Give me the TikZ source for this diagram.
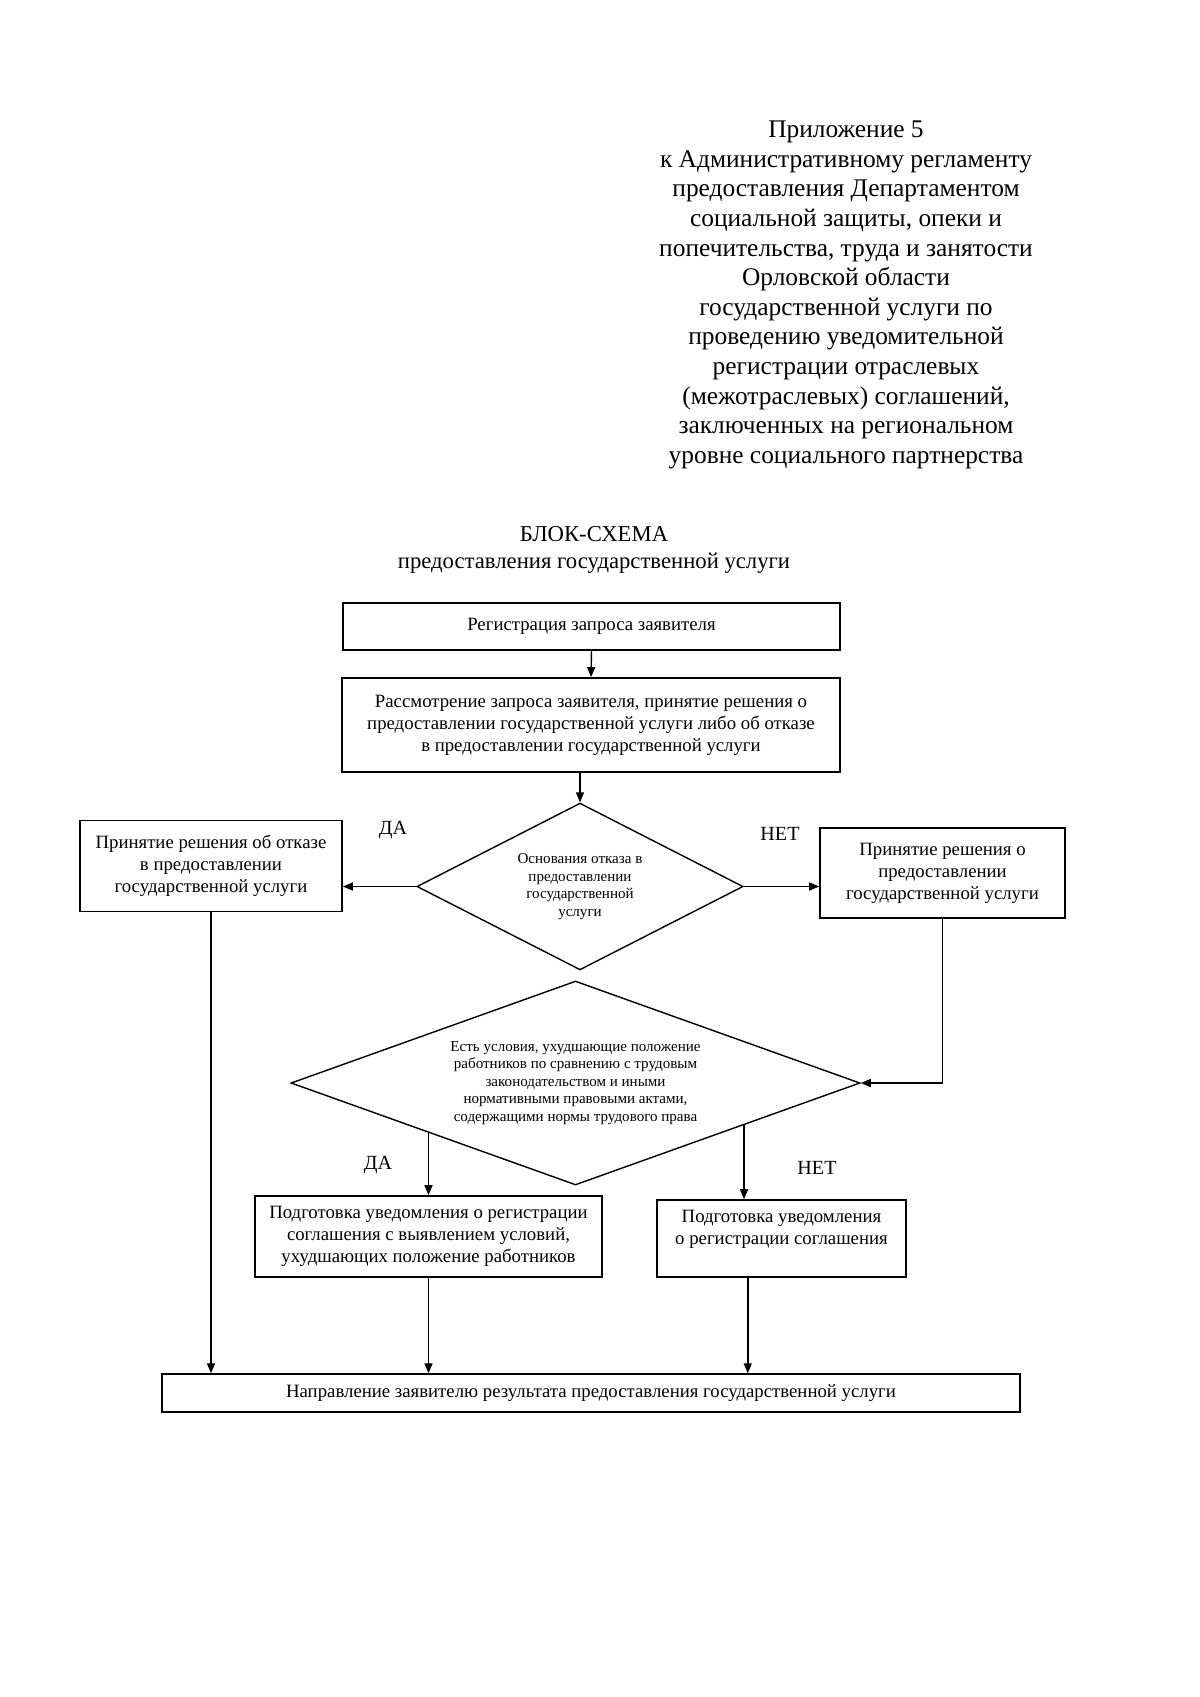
\documentclass[tikz,border=0pt]{standalone}
\usepackage{fontspec}
\setmainfont{Liberation Serif}
\usetikzlibrary{shapes.geometric,arrows.meta,positioning,calc}

\begin{document}
\begin{tikzpicture}[x=0.0175cm, y=-0.0175cm,
        box/.style={draw, line width=0.7pt, align=center, inner sep=2pt, font=\fontsize{9.35}{11}\selectfont},
        decision/.style={draw, diamond, line width=0.7pt, align=center, inner sep=0pt, font=\fontsize{7.5}{8.7}\selectfont},
        arr/.style={-{Triangle[length=5pt,width=4pt]}, line width=0.7pt},
        lbl/.style={font=\fontsize{10}{12}\selectfont}]
        \useasboundingbox (0,0) rectangle (1200,1697);

        % Header
        \node[align=center, font=\fontsize{12.65}{14.74}\selectfont] (hdr) at (846,295) {Приложение 5\\
            к Административному регламенту\\
            предоставления Департаментом\\
            социальной защиты, опеки и\\
            попечительства, труда и занятости\\
            Орловской области\\
            государственной услуги по\\
            проведению уведомительной\\
            регистрации отраслевых\\
            (межотраслевых) соглашений,\\
            заключенных на региональном\\
            уровне социального партнерства};
        \node[align=center, font=\fontsize{11.3}{13.4}\selectfont] (title) at (594,550) {БЛОК-СХЕМА\\ предоставления государственной услуги};

        % Boxes
        \node[box, minimum width=8.70cm, minimum height=0.82cm] (reg) at (591.5,626.5) {Регистрация запроса заявителя};
        \node[box, minimum width=8.72cm, minimum height=1.65cm] (rev) at (591,725) {Рассмотрение запроса заявителя, принятие решения о\\ предоставлении государственной услуги либо об отказе\\ в предоставлении государственной услуги};
        \node[decision, shape aspect=1.96, minimum width=5.71cm, minimum height=2.92cm] (grounds) at (580,886.5) {Основания отказа в\\ предоставлении\\ государственной\\ услуги};
        \node[box, minimum width=4.59cm, minimum height=1.59cm] (refuse) at (211,866) {Принятие решения об отказе\\ в предоставлении\\ государственной услуги};
        \node[box, minimum width=4.29cm, minimum height=1.58cm] (grant) at (942.5,873) {Принятие решения о\\ предоставлении\\ государственной услуги};
        \node[decision, shape aspect=2.8, minimum width=9.96cm, minimum height=3.57cm] (worse) at (575.5,1083) {Есть условия, ухудшающие положение\\ работников по сравнению с трудовым\\ законодательством и иными\\ нормативными правовыми актами,\\ содержащими нормы трудового права};
        \node[box, minimum width=6.07cm, minimum height=1.42cm] (notewith) at (428.5,1236.5) {Подготовка уведомления о регистрации\\ соглашения с выявлением условий,\\ ухудшающих положение работников};
        \node[box, minimum width=4.36cm, minimum height=1.35cm] (noteplain) at (781.5,1238.5) {Подготовка уведомления\\ о регистрации соглашения\\ \mbox{}};
        \node[box, minimum width=15.02cm, minimum height=0.665cm] (send) at (591,1393) {Направление заявителю результата предоставления государственной услуги};

        % Labels
        \node[lbl] (yes1) at (393,830) {ДА};
        \node[lbl] (no1) at (780,834) {НЕТ};
        \node[lbl] (yes2) at (378,1165) {ДА};
        \node[lbl] (no2) at (817,1168) {НЕТ};

        % Connectors
        \draw[arr] (reg.south) -- (rev.north);
        \draw[arr] (grounds.north |- rev.south) -- (grounds.north);
        \draw[arr] (grounds.west) -- (refuse.east |- grounds.west);
        \draw[arr] (grounds.east) -- (grant.west |- grounds.east);
        \draw[arr] (grant.south) |- (worse.east);
        \draw[arr] (worse.198 -| notewith.north) -- (notewith.north);
        \draw[arr] (worse.-14.6) -- (worse.-14.6 |- noteplain.north);
        \draw[arr] (refuse.south) -- (refuse.south |- send.north);
        \draw[arr] (notewith.south) -- (notewith.south |- send.north);
        \draw[arr] ([xshift=-0.59cm]noteplain.south) -- ([xshift=-0.59cm]noteplain.south |- send.north);
    \end{tikzpicture}
\end{document}
